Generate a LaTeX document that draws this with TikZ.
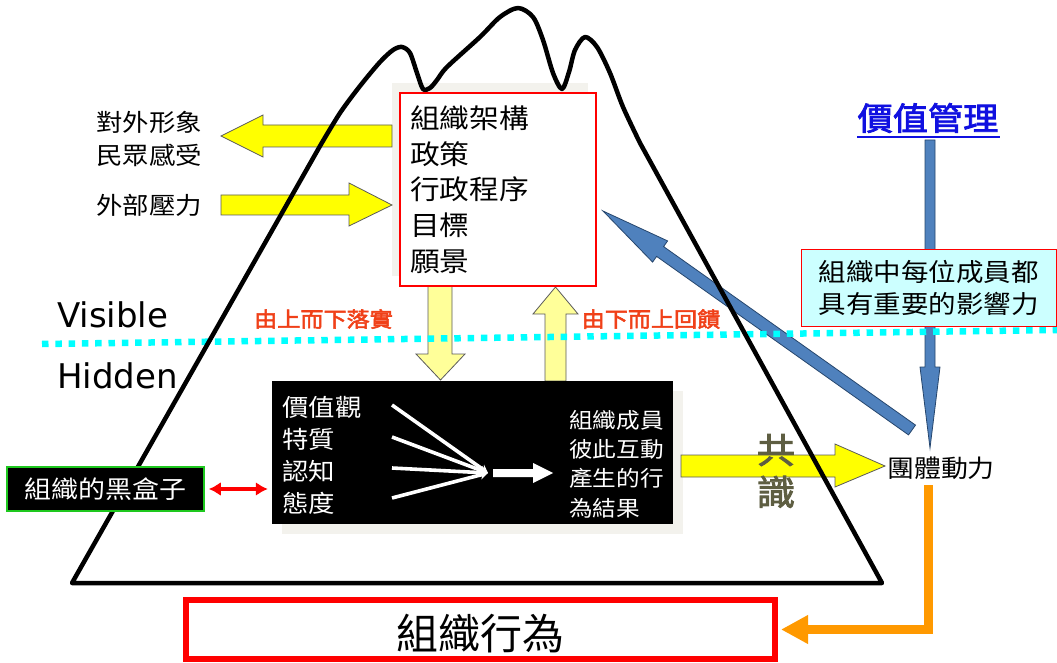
\documentclass[tikz,border=0pt]{standalone}
\usepackage{fontspec}
\setmainfont{DejaVu Sans}
\newfontfamily\cjk[FakeStretch=1.1]{Noto Sans CJK TC}
\newfontfamily\cjkn{Noto Sans CJK TC}
\newfontfamily\cjkb[FakeStretch=1.1,FakeBold=2.5]{Noto Sans CJK TC}
\usetikzlibrary{arrows.meta,calc}
\definecolor{yel}{RGB}{255,255,0}
\definecolor{lyel}{RGB}{255,255,153}
\definecolor{arrline}{RGB}{90,90,90}
\definecolor{steel}{RGB}{79,129,189}
\definecolor{steeldark}{RGB}{38,70,109}
\definecolor{lblred}{RGB}{240,64,24}
\definecolor{vmblue}{RGB}{16,16,224}
\definecolor{shad}{RGB}{243,242,237}
\definecolor{lcyan}{RGB}{204,255,255}
\definecolor{grn}{RGB}{30,200,30}
\definecolor{orng}{RGB}{255,153,0}
\definecolor{olive}{RGB}{94,94,66}
\definecolor{dotcyan}{RGB}{0,255,255}
\definecolor{pured}{RGB}{255,0,0}
\tikzset{
  yarrow/.style={fill=yel, draw=arrline, line width=0.8pt},
  lyarrow/.style={fill=lyel, draw=arrline, line width=0.8pt},
  barrow/.style={fill=steel, draw=steeldark, line width=0.8pt},
  cjktext/.style={inner sep=0pt, align=left, font={\cjk\fontsize{24}{33}\selectfont}},
  redlbl/.style={inner sep=0pt, text=lblred, font={\cjkb\fontsize{21}{25}\selectfont}},
  engl/.style={inner sep=0pt, anchor=base west, font={\fontsize{34}{40}\selectfont}},
}
\begin{document}
\begin{tikzpicture}[x=1pt,y=-1pt]
\useasboundingbox (0,0) rectangle (1057,663);
% shadows
\fill[shad] (392,83) rectangle (588,276);
\fill[shad] (282,391) rectangle (683,534);
% yellow block arrows
\filldraw[yarrow] (392,125) -- (263,125) -- (263,115) -- (221,136) -- (263,157) -- (263,147) -- (392,147) -- cycle;
\filldraw[yarrow] (221,195) -- (349,195) -- (349,183) -- (392,205) -- (349,226) -- (349,215) -- (221,215) -- cycle;
\filldraw[yarrow] (681,455) -- (835,455) -- (835,444) -- (885,466) -- (835,487) -- (835,477) -- (681,477) -- cycle;
\filldraw[lyarrow] (428,286) -- (452,286) -- (452,354) -- (465,354) -- (440.5,380) -- (416,354) -- (428,354) -- cycle;
\filldraw[lyarrow] (545,381) -- (545,314) -- (533,314) -- (555.5,287) -- (578,314) -- (566,314) -- (566,381) -- cycle;
% blue arrows
\filldraw[barrow] (925,140) -- (935,140) -- (935,367) -- (940,367) -- (930,448) -- (920,367) -- (925,367) -- cycle;
\filldraw[barrow] (915.5,425.1) -- (663.6,246.6) -- (667.6,240.9) -- (603,211) -- (652.6,262.1) -- (656.6,256.4) -- (908.5,434.9) -- cycle;
% dotted visible/hidden line
\draw[dotcyan, line width=6.5pt, dash pattern=on 6.5pt off 6.8pt] (42,344) -- (1057,330);
% mountain
\draw[line width=4.5pt, line join=round] (72,583) -- plot[smooth, tension=0.5] coordinates {(320,146) (340,113) (360,86) (380,62) (393,50) (402,47) (410,53) (417,73) (423,89) (430,88) (437,80) (447,67) (480,37) (500,17) (518,8) (533,17) (543,40) (553,73) (562,89) (569,72) (575,50) (585,37) (597,47) (610,73) (623,107) (640,143)} -- (882,583) -- cycle;
% left texts
\node[cjktext, anchor=west] (ext) at (96,138.5) {對外形象\\民眾感受};
\node[cjktext, anchor=west] (press) at (96,205) {外部壓力};
% visible / hidden
\node[engl] (vis) at (57,327) {Visible};
\node[engl] (hid) at (57,388) {Hidden};
% center box
\node[draw=pured, fill=white, line width=1.2pt, minimum width=196pt, minimum height=193pt, text width=176pt, inner xsep=10pt, align=left, font={\cjk\fontsize{27}{35.75}\selectfont}] (org) at (498,189.5) {組織架構\\政策\\行政程序\\目標\\願景};
% labels
\node[redlbl] (down) at (323.5,319) {由上而下落實};
\node[redlbl] (up) at (651,319) {由下而上回饋};
% black box
\node[fill=black, minimum width=401pt, minimum height=143pt, inner sep=0pt] (bb) at (472.5,452.5) {};
\node[cjktext, anchor=west, text=white, font={\cjk\fontsize{24}{32}\selectfont}] (vals) at (282,455) {價值觀\\特質\\認知\\態度};
\node[cjktext, anchor=west, text=white, font={\cjk\fontsize{21.5}{29.3}\selectfont}] (res) at (569,464) {組織成員\\彼此互動\\產生的行\\為結果};
\coordinate (conv) at (488,473);
\foreach \yy in {405,437,468,498} {
  \draw[white, line width=3.6pt, -{Stealth[length=8pt,width=9pt]}] (392,\yy) -- (conv);
}
\fill[white] (493,469) -- (533,469) -- (533,463) -- (553,473) -- (533,483) -- (533,477) -- (493,477) -- cycle;
% black box label
\node[fill=black, draw=grn, line width=1.5pt, minimum width=197pt, minimum height=44pt, inner sep=0pt, text=white, font={\cjk\fontsize{24.5}{30}\selectfont}] (bbox) at (105.5,489) {組織的黑盒子};
\draw[pured, line width=3.5pt, {Latex[length=12pt,width=14pt]}-{Latex[length=12pt,width=14pt]}, shorten <=4pt, shorten >=4pt] (bbox.east) -- (bbox.east -| bb.west);
% consensus
\node[inner sep=0pt, align=center, text=olive, font={\cjkb\fontsize{35}{42}\selectfont}] (cons) at (776,471) {共\\識};
% right side
\node[inner sep=0pt, text=vmblue, font={\cjkb\fontsize{32}{36}\selectfont}] (vm) at (928,118) {價值管理};
\draw[vmblue, line width=2.5pt] (857,137) -- (1000,137);
\node[draw=pured, fill=lcyan, line width=1pt, minimum width=255pt, minimum height=77pt, inner sep=0pt, align=center, font={\cjk\fontsize{25}{32}\selectfont}] (infl) at (928.5,287.5) {組織中每位成員都\\具有重要的影響力};
\node[inner sep=0pt, font={\cjk\fontsize{24.5}{30}\selectfont}] (dyn) at (941,468) {團體動力};
% bottom
\node[draw=pured, line width=6pt, minimum width=589pt, minimum height=59pt, inner sep=0pt] (ob) at (480.5,629.5) {};
\node[inner sep=0pt, font={\cjkn\fontsize{42}{48}\selectfont}] (obt) at (480.5,634) {組織行為};
\coordinate (dynout) at (928,485);
\draw[orng, line width=9pt, -{Triangle[length=27pt,width=27pt]}] (dynout) |- ([xshift=3pt]ob.east);
\end{tikzpicture}
\end{document}
